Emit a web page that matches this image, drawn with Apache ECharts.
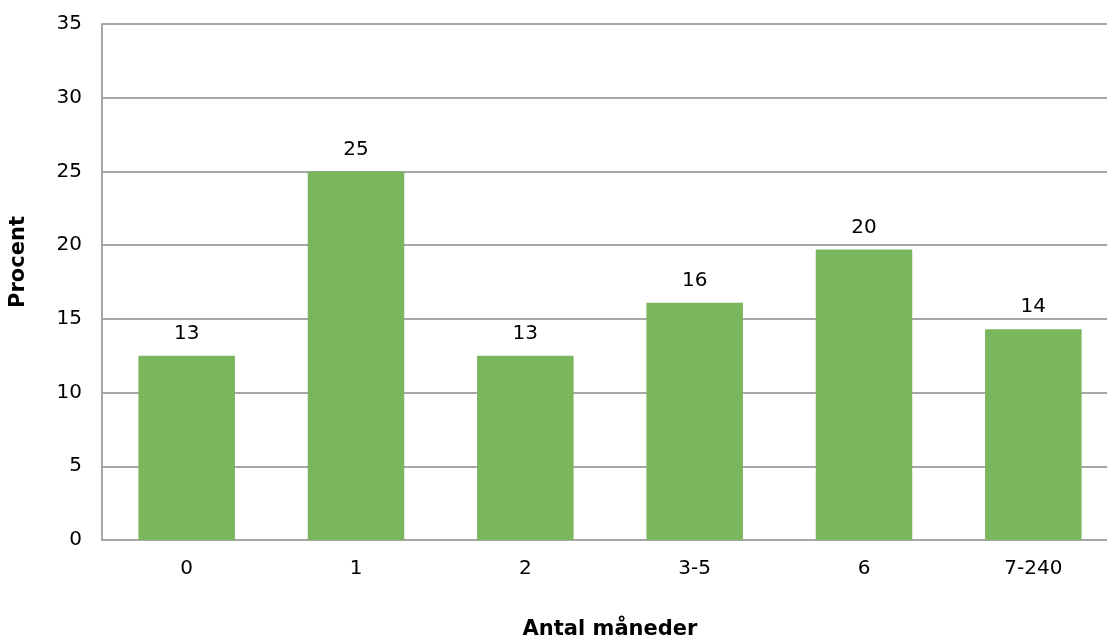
<!DOCTYPE html>
<html>
<head>
<meta charset="utf-8">
<script src="https://cdn.jsdelivr.net/npm/echarts@6/dist/echarts.min.js"></script>
<style>
  html, body { margin: 0; padding: 0; background: #fff; overflow: hidden; }
  #chart { width: 1107px; height: 639px; }
</style>
</head>
<body>
<div id="chart"></div>
<script>
// Fordeling af antal måneder (procent)
const categories = ['0', '1', '2', '3-5', '6', '7-240'];
const percentValues = [12.5, 25, 12.5, 16.1, 19.7, 14.3];
const yTicks = { min: 0, max: 35, interval: 5 };

const chart = echarts.init(document.getElementById('chart'), null, { renderer: 'canvas' });
const font = 'Verdana, "DejaVu Sans", sans-serif';
const gridColor = '#a6a6a6';

chart.setOption({
  animation: false,
  backgroundColor: '#ffffff',
  grid: {
    left: 102, top: 24, width: 1016, height: 516,
    containLabel: false,
    outerBoundsMode: 'none'
  },
  xAxis: {
    type: 'category',
    data: categories,
    name: 'Antal måneder',
    nameLocation: 'middle',
    nameGap: 79,
    nameTextStyle: { fontFamily: font, fontSize: 21, fontWeight: 'bold', color: '#000' },
    axisLine: { show: true, lineStyle: { color: gridColor, width: 2 } },
    axisTick: { show: false },
    axisLabel: { fontFamily: font, fontSize: 20, color: '#000', margin: 19 }
  },
  yAxis: {
    type: 'value',
    min: yTicks.min,
    max: yTicks.max,
    interval: yTicks.interval,
    name: 'Procent',
    nameLocation: 'middle',
    nameGap: 73,
    nameTextStyle: {
      fontFamily: font, fontSize: 21, fontWeight: 'bold', color: '#000',
      padding: [0, 0, 0, 40]
    },
    axisLine: { show: true, lineStyle: { color: gridColor, width: 2 } },
    axisTick: { show: false },
    axisLabel: { fontFamily: font, fontSize: 20, color: '#000', margin: 20 },
    splitLine: { show: true, lineStyle: { color: gridColor, width: 2 } }
  },
  series: [{
    type: 'bar',
    data: percentValues,
    barWidth: '57%',
    itemStyle: { color: '#79b65d' },
    label: {
      show: true,
      position: 'top',
      distance: 12,
      fontFamily: font,
      fontSize: 20,
      color: '#000',
      formatter: p => String(Math.round(p.value))
    }
  }]
});
</script>
</body>
</html>
